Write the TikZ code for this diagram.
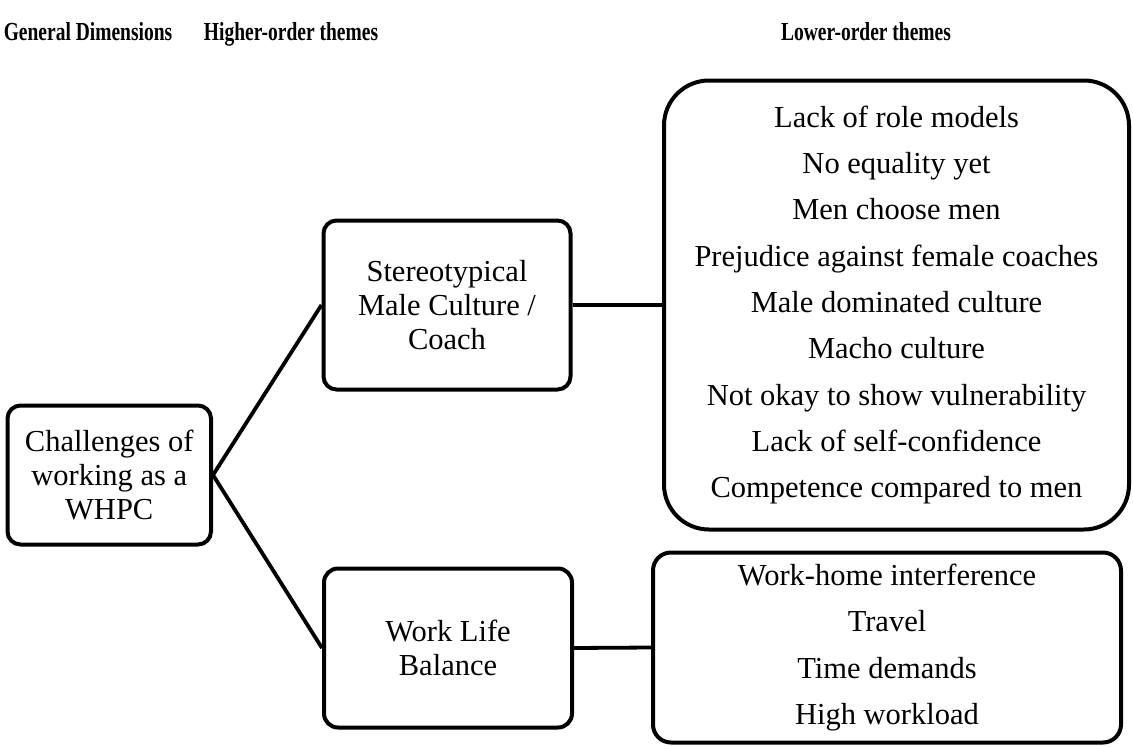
\documentclass[tikz,border=0pt]{standalone}
\usepackage{fontspec}
\setmainfont{Liberation Serif}
\usepackage{graphicx}
\begin{document}
\begin{tikzpicture}[x=1pt,y=-1pt,
  box/.style={draw, line width=4pt, rounded corners=13pt, align=center, inner sep=0pt,
    font=\fontsize{30.5}{34}\selectfont},
  listbox/.style={box, font=\fontsize{30.5}{46.3}\selectfont},
  conn/.style={line width=3.8pt},
  head/.style={font=\bfseries\fontsize{26}{28}\selectfont, anchor=base, inner sep=0pt}]
\useasboundingbox (0,0) rectangle (1133,747);
% headers
\node[head] (h1) at (88,40) {\scalebox{0.75}[1]{General Dimensions}};
\node[head] (h2) at (291,40) {\scalebox{0.75}[1]{Higher-order themes}};
\node[head] (h3) at (866,40) {\scalebox{0.75}[1]{Lower-order themes}};
% boxes
\node[box, minimum width=203.5pt, minimum height=139pt] (A) at (109.25,475)
  {Challenges of\\working as a\\WHPC};
\node[box, minimum width=247pt, minimum height=169pt] (B) at (447,305)
  {Stereotypical\\Male Culture /\\Coach};
\node[box, minimum width=248pt, minimum height=159pt, rounded corners=14pt] (D) at (448,648)
  {Work Life\\Balance};
\node[listbox, minimum width=465pt, minimum height=449pt, rounded corners=45pt] (C) at (896.5,305)
  {Lack of role models\\No equality yet\\Men choose men\\Prejudice against female coaches\\
   Male dominated culture\\Macho culture\\Not okay to show vulnerability\\
   Lack of self-confidence\\Competence compared to men};
\node[listbox, minimum width=468pt, minimum height=190pt, rounded corners=18pt] (E) at (887,647.5)
  {Work-home interference\\Travel\\Time demands\\High workload};
% connectors
\draw[conn] (A.east) -- (B.west);
\draw[conn] (A.east) -- (D.west);
\draw[conn] (B.east) -- (C.west);
\draw[conn] (D.east) -- (E.west);
\end{tikzpicture}
\end{document}
